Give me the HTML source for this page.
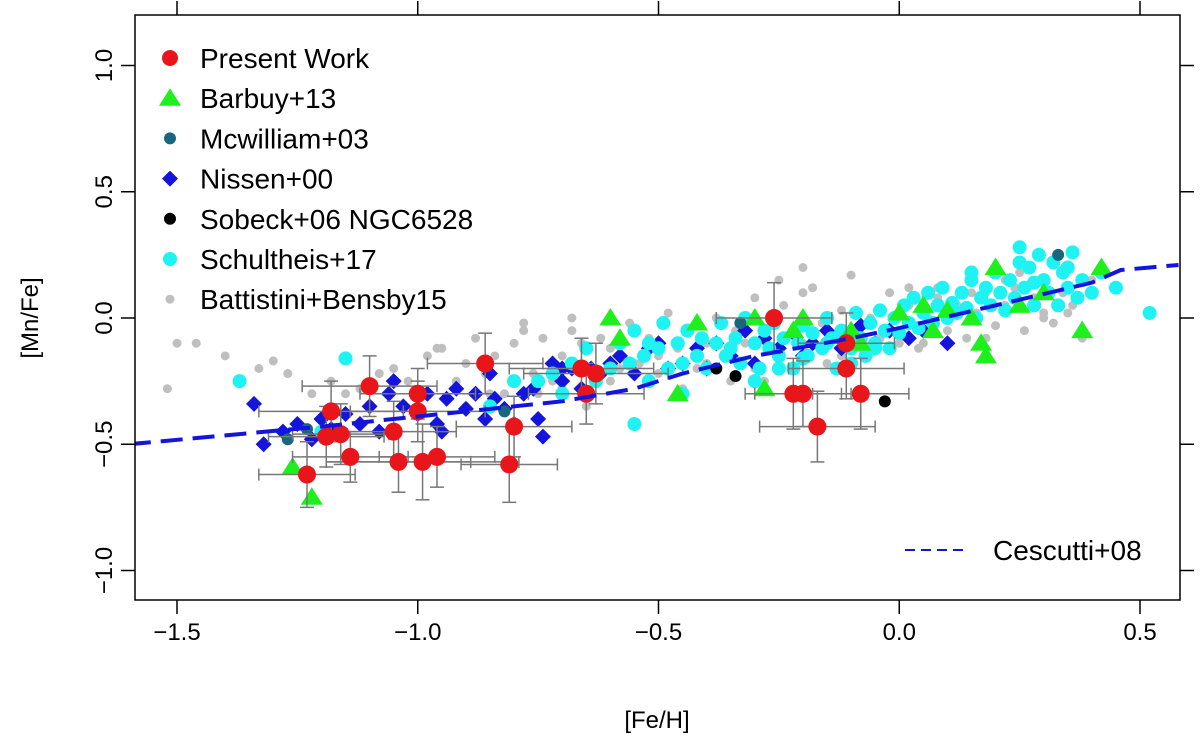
<!DOCTYPE html>
<html><head><meta charset="utf-8"><style>
body{margin:0;background:#fff}
svg text{font-family:"Liberation Sans",Arial,sans-serif}
</style></head><body>
<svg id="chart" width="1200" height="735" xmlns="http://www.w3.org/2000/svg">
<g id="marks"></g>
<g id="axes"></g>
</svg>
<script>
const xTicks=[-1.5,-1.0,-0.5,0.0,0.5];
const xTickLabels=["\u22121.5","\u22121.0","\u22120.5","0.0","0.5"];
const yTicks=[-1.0,-0.5,0.0,0.5,1.0];
const yTickLabels=["\u22121.0","\u22120.5","0.0","0.5","1.0"];
const grayX=[-1.52,-1.5,-1.46,-1.4,-1.33,-1.3,-1.27,-1.22,-1.18,-1.15,-1.12,-1.08,-1.05,-1.02,-0.98,-0.95,-0.92,-0.9,-0.88,-0.86,-0.84,-0.82,-0.8,-0.78,-0.76,-0.74,-0.72,-0.7,-0.68,-0.66,-0.64,-0.62,-0.6,-0.58,-0.56,-0.54,-0.52,-0.5,-0.48,-0.46,-0.44,-0.42,-0.4,-0.38,-0.36,-0.34,-0.32,-0.3,-0.28,-0.26,-0.24,-0.22,-0.2,-0.18,-0.16,-0.14,-0.12,-0.1,-0.08,-0.06,-0.04,-0.02,0.0,0.02,0.04,0.06,0.08,0.1,0.12,0.14,0.16,0.18,0.2,0.22,0.24,0.26,0.28,0.3,0.32,0.34,0.36,0.38,0.4,-0.75,-0.7,-0.65,-0.6,-0.55,-0.5,-0.35,-0.3,-0.25,-0.15,-0.05,0.05,0.1,0.15,0.25,0.3,-0.9,-0.85,-0.78,-0.68,-0.45,-0.4,-0.2,-0.12,0.02,0.22,0.35,-1.0,-0.96,-0.2,-0.25,-0.28,-0.1,0.0,0.08,0.18];
const grayY=[-0.28,-0.1,-0.1,-0.15,-0.2,-0.17,-0.22,-0.3,-0.25,-0.3,-0.28,-0.22,-0.2,-0.25,-0.15,-0.12,-0.25,-0.18,-0.08,-0.22,-0.15,-0.3,-0.1,-0.05,-0.22,-0.08,-0.25,-0.15,-0.05,-0.1,-0.2,-0.08,-0.12,-0.2,-0.02,-0.18,-0.08,-0.22,0.02,-0.12,-0.05,-0.2,-0.1,0.0,-0.15,-0.05,-0.1,0.08,-0.08,-0.12,0.05,-0.05,-0.1,0.12,-0.02,-0.08,0.03,-0.05,-0.12,0.0,-0.08,0.1,-0.05,0.05,-0.12,0.0,0.08,-0.05,0.05,-0.08,0.02,0.1,-0.03,0.05,0.12,-0.05,0.08,0.0,-0.02,0.1,0.05,-0.08,0.15,-0.3,-0.28,-0.35,-0.25,-0.18,-0.15,-0.25,-0.2,-0.12,-0.18,-0.1,-0.1,0.03,0.1,0.18,0.02,-0.35,-0.3,-0.02,0.0,-0.28,-0.18,0.1,-0.15,0.12,0.15,0.02,-0.35,-0.12,0.2,0.15,-0.25,0.17,-0.1,0.12,-0.08];
const blueX=[-1.34,-1.32,-1.28,-1.25,-1.22,-1.2,-1.18,-1.15,-1.12,-1.1,-1.08,-1.06,-1.03,-1.0,-0.98,-0.96,-0.94,-0.92,-0.9,-0.88,-0.86,-0.84,-0.82,-0.8,-0.78,-0.76,-0.74,-0.72,-0.7,-0.68,-0.66,-0.64,-0.62,-0.6,-0.58,-0.55,-0.52,-0.5,-0.48,-0.45,-0.42,-0.4,-0.38,-0.35,-0.32,-0.3,-0.28,-0.25,-0.22,-0.2,-0.18,-0.15,-0.12,-0.1,-0.08,-0.05,-0.02,0.02,0.05,0.1,-0.95,-0.85,-0.75,-1.05,-0.7];
const blueY=[-0.34,-0.5,-0.45,-0.42,-0.48,-0.4,-0.44,-0.38,-0.42,-0.35,-0.45,-0.3,-0.35,-0.38,-0.3,-0.42,-0.32,-0.28,-0.36,-0.3,-0.4,-0.32,-0.36,-0.42,-0.3,-0.28,-0.47,-0.18,-0.25,-0.2,-0.28,-0.2,-0.22,-0.18,-0.15,-0.22,-0.12,-0.1,-0.2,-0.18,-0.12,-0.2,-0.1,-0.15,-0.05,-0.18,-0.08,-0.12,-0.06,-0.15,-0.1,-0.05,-0.12,-0.08,-0.03,-0.1,-0.05,-0.08,-0.05,-0.1,-0.45,-0.22,-0.4,-0.25,-0.2];
const cyanX=[-1.37,-1.2,-1.15,-0.85,-0.8,-0.75,-0.72,-0.68,-0.65,-0.63,-0.6,-0.58,-0.56,-0.55,-0.53,-0.52,-0.5,-0.49,-0.48,-0.46,-0.45,-0.44,-0.42,-0.41,-0.4,-0.38,-0.37,-0.36,-0.34,-0.33,-0.32,-0.3,-0.29,-0.28,-0.27,-0.26,-0.25,-0.24,-0.22,-0.21,-0.2,-0.19,-0.18,-0.16,-0.15,-0.14,-0.13,-0.12,-0.1,-0.09,-0.08,-0.07,-0.06,-0.05,-0.04,-0.03,-0.02,-0.01,0.0,0.01,0.02,0.03,0.04,0.05,0.06,0.07,0.08,0.09,0.1,0.11,0.12,0.13,0.14,0.15,0.16,0.17,0.18,0.19,0.2,0.21,0.22,0.23,0.24,0.25,0.26,0.27,0.28,0.29,0.3,0.31,0.32,0.33,0.34,0.35,0.36,0.37,0.38,0.4,0.42,0.45,0.52,-0.55,-0.35,-0.25,-0.15,-0.05,0.15,0.25,0.35,0.28,-0.52,-0.7,-0.45,-0.3,-0.2,-0.1];
const cyanY=[-0.25,-0.45,-0.16,-0.35,-0.25,-0.25,-0.22,-0.18,-0.12,-0.25,-0.2,-0.1,-0.18,-0.05,-0.15,-0.25,-0.12,-0.02,-0.2,-0.1,-0.18,-0.05,-0.15,-0.08,-0.2,-0.1,-0.02,-0.15,-0.08,-0.18,0.0,-0.1,-0.2,-0.05,-0.12,-0.02,-0.15,-0.08,-0.2,-0.1,-0.03,-0.15,-0.06,-0.12,0.0,-0.08,-0.2,-0.05,-0.12,0.02,-0.08,-0.15,-0.02,-0.1,0.03,-0.05,-0.12,0.0,-0.06,0.05,-0.02,0.08,-0.04,0.02,0.1,-0.02,0.05,0.12,0.0,0.06,0.02,0.1,0.04,0.15,0.0,0.08,0.12,0.05,0.18,0.1,0.03,0.15,0.08,0.28,0.12,0.2,0.05,0.25,0.15,0.1,0.22,0.05,0.18,0.12,0.26,0.08,0.15,0.1,0.18,0.12,0.02,-0.42,-0.12,-0.2,-0.1,-0.12,0.18,0.22,0.2,0.14,-0.1,-0.3,-0.3,-0.25,-0.16,-0.18];
const greenX=[-1.26,-1.22,-0.6,-0.58,-0.46,-0.42,-0.3,-0.28,-0.22,-0.2,-0.1,-0.08,0.0,0.05,0.1,0.07,0.15,0.17,0.18,0.2,0.25,0.3,0.38,0.42];
const greenY=[-0.59,-0.71,0.0,-0.08,-0.3,-0.02,0.0,-0.28,-0.05,0.0,-0.05,-0.1,0.02,0.05,0.03,-0.05,0.0,-0.1,-0.15,0.2,0.05,0.1,-0.05,0.2];
const tealX=[-1.27,-1.23,-0.82,-0.33,0.33];
const tealY=[-0.48,-0.44,-0.37,-0.02,0.25];
const blackX=[-0.38,-0.34,-0.03];
const blackY=[-0.2,-0.23,-0.33];
const redX=[-1.23,-1.19,-1.18,-1.16,-1.14,-1.1,-1.05,-1.04,-1.0,-1.0,-0.99,-0.96,-0.86,-0.81,-0.8,-0.66,-0.65,-0.63,-0.26,-0.22,-0.2,-0.17,-0.11,-0.11,-0.08];
const redY=[-0.62,-0.47,-0.37,-0.46,-0.55,-0.27,-0.45,-0.57,-0.3,-0.37,-0.57,-0.55,-0.18,-0.58,-0.43,-0.2,-0.3,-0.22,0.0,-0.3,-0.3,-0.43,-0.1,-0.2,-0.3];
const redXErr=[0.1,0.12,0.15,0.1,0.12,0.14,0.13,0.15,0.12,0.14,0.2,0.12,0.12,0.1,0.12,0.15,0.12,0.15,0.12,0.1,0.1,0.12,0.1,0.12,0.1];
const redYErr=[0.13,0.12,0.12,0.12,0.1,0.12,0.12,0.12,0.1,0.12,0.15,0.12,0.12,0.15,0.12,0.12,0.12,0.12,0.14,0.14,0.13,0.14,0.12,0.12,0.14];
const cescX=[-1.6,-1.2,-0.9,-0.7,-0.55,-0.45,-0.3,-0.1,0.0,0.2,0.4,0.46,0.58];
const cescY=[-0.5,-0.43,-0.37,-0.33,-0.28,-0.22,-0.15,-0.08,-0.04,0.05,0.14,0.19,0.21];

const L=135,R=1180,T=15,B=600;
const sx=v=>177+(v+1.5)*481.5;
const sy=v=>318-v*252.5;
const NS="http://www.w3.org/2000/svg";
const marks=document.getElementById('marks'),axes=document.getElementById('axes');
function mk(tag,attrs,parent){const e=document.createElementNS(NS,tag);for(const k in attrs)e.setAttribute(k,attrs[k]);parent.appendChild(e);return e;}
function circ(x,y,r,fill){return mk('circle',{cx:x,cy:y,r:r,fill:fill},marks);}
function diamond(x,y,s,fill){return mk('polygon',{points:`${x},${y-s} ${x+s},${y} ${x},${y+s} ${x-s},${y}`,fill:fill},marks);}
function tri(x,y,s,fill){return mk('polygon',{points:`${x},${y-s} ${x+s*1.1},${y+s*0.75} ${x-s*1.1},${y+s*0.75}`,fill:fill},marks);}

grayX.forEach((v,i)=>{const e=circ(sx(v),sy(grayY[i]),4.5,'#bfbfbf');

});
blueX.forEach((v,i)=>{const e=diamond(sx(v),sy(blueY[i]),8,'#1414dc');

});
cyanX.forEach((v,i)=>{const e=circ(sx(v),sy(cyanY[i]),7,'#1ef2f2');

});
greenX.forEach((v,i)=>{const e=tri(sx(v),sy(greenY[i]),10,'#1ef01e');

});
tealX.forEach((v,i)=>{const e=circ(sx(v),sy(tealY[i]),6,'#19677f');

});
blackX.forEach((v,i)=>{const e=circ(sx(v),sy(blackY[i]),6,'#000');

});
redX.forEach((v,i)=>{
 const x=sx(v),y=sy(redY[i]),x1=sx(v-redXErr[i]),x2=sx(v+redXErr[i]),y1=sy(redY[i]+redYErr[i]),y2=sy(redY[i]-redYErr[i]);
 const g=mk('g',{stroke:'#777','stroke-width':1.5},marks);
 
 
 mk('line',{x1:x1,y1:y,x2:x2,y2:y},g);mk('line',{x1:x1,y1:y-6,x2:x1,y2:y+6},g);mk('line',{x1:x2,y1:y-6,x2:x2,y2:y+6},g);
 mk('line',{x1:x,y1:y1,x2:x,y2:y2},g);mk('line',{x1:x-7,y1:y1,x2:x+7,y2:y1},g);mk('line',{x1:x-7,y1:y2,x2:x+7,y2:y2},g);
});
redX.forEach((v,i)=>{const e=circ(sx(v),sy(redY[i]),9,'#e8161b');

});
const line=mk('polyline',{points:cescX.map((v,i)=>sx(v)+','+sy(cescY[i])).join(' '),fill:'none',stroke:'#1414dc','stroke-width':4,'stroke-dasharray':'22 10'},marks);


const cp=mk('clipPath',{id:'cp'},document.getElementById('chart'));mk('rect',{x:L,y:T,width:R-L,height:B-T},cp);
marks.setAttribute('clip-path','url(#cp)');

const frame=mk('rect',{x:L,y:T,width:R-L,height:B-T,fill:'none',stroke:'#000','stroke-width':1.5},axes);


xTicks.forEach((v,i)=>{const x=sx(v);
 mk('line',{x1:x,y1:B,x2:x,y2:B+14,stroke:'#000','stroke-width':1.5},axes);
 mk('line',{x1:x,y1:T,x2:x,y2:T-14,stroke:'#000','stroke-width':1.5},axes);
 const t=mk('text',{x:x,y:640,'font-size':24,'text-anchor':'middle'},axes);t.textContent=xTickLabels[i];
 
 });
yTicks.forEach((v,i)=>{const y=sy(v);
 mk('line',{x1:L,y1:y,x2:L-14,y2:y,stroke:'#000','stroke-width':1.5},axes);
 mk('line',{x1:R,y1:y,x2:R+14,y2:y,stroke:'#000','stroke-width':1.5},axes);
 const t=mk('text',{x:112,y:y,'font-size':24,'text-anchor':'middle',transform:`rotate(-90 112 ${y})`},axes);t.textContent=yTickLabels[i];
 
 });
let t=mk('text',{x:657,y:728,'font-size':24,'text-anchor':'middle'},axes);t.textContent='[Fe/H]';


t=mk('text',{x:38,y:318,'font-size':24,'text-anchor':'middle',transform:'rotate(-90 38 318)'},axes);t.textContent='[Mn/Fe]';



const legNames=["Present Work","Barbuy+13","Mcwilliam+03","Nissen+00","Sobeck+06 NGC6528","Schultheis+17","Battistini+Bensby15"];
legNames.forEach((n,i)=>{const y=58+i*40.2;
 const g=mk('g',{},axes);
 
 
 let m;
 if(i==0)m=mk('circle',{cx:170,cy:y,r:8,fill:'#e8161b'},g);
 if(i==1){const s=10;m=mk('polygon',{points:`170,${y-s} ${170+s*1.1},${y+s*0.75} ${170-s*1.1},${y+s*0.75}`,fill:'#1ef01e'},g);}
 if(i==2)m=mk('circle',{cx:170,cy:y,r:6,fill:'#19677f'},g);
 if(i==3){const s=8;m=mk('polygon',{points:`170,${y-s} ${170+s},${y} 170,${y+s} ${170-s},${y}`,fill:'#1414dc'},g);}
 if(i==4)m=mk('circle',{cx:170,cy:y,r:6,fill:'#000'},g);
 if(i==5)m=mk('circle',{cx:170,cy:y,r:7,fill:'#1ef2f2'},g);
 if(i==6)m=mk('circle',{cx:170,cy:y,r:4.5,fill:'#bfbfbf'},g);
 const tx=mk('text',{x:200,y:y+10,'font-size':28},g);tx.textContent=n;});
const lg=mk('g',{},axes);


mk('line',{x1:905,y1:550,x2:968,y2:550,stroke:'#1414dc','stroke-width':2,'stroke-dasharray':'10 6'},lg);
const lt=mk('text',{x:993,y:560,'font-size':28},lg);lt.textContent='Cescutti+08';
</script>
</body></html>
